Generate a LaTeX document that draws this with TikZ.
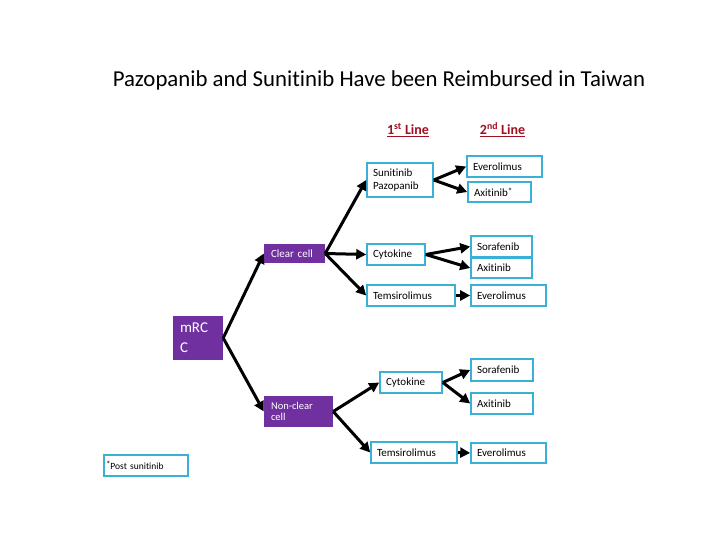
\documentclass[tikz,border=0pt]{standalone}
\usepackage{fontspec}
\setmainfont[Ligatures=NoCommon]{Carlito}
\usetikzlibrary{arrows.meta}
\definecolor{Ink}{HTML}{000000}
\definecolor{Paper}{HTML}{FFFFFF}
\definecolor{Plum}{HTML}{7030A0}
\definecolor{Aqua}{HTML}{3AAFD8}
\definecolor{Crimson}{HTML}{A01020}
\tikzset{
  drugbox/.style={rectangle,draw=Aqua,fill=Paper,text=Ink,line width=1.6pt,inner xsep=6pt,inner ysep=2pt,
    align=left,font=\fontsize{11}{13.5}\selectfont},
  typebox/.style={rectangle,fill=Plum,text=Paper,inner xsep=7pt,inner ysep=2pt,align=left,font=\fontsize{11}{12}\selectfont},
  flowarrow/.style={draw=Ink,line width=3pt,-{Triangle[length=10pt,width=10pt]}},
  lineheading/.style={text=Crimson,font=\fontsize{14}{16}\selectfont\bfseries}
}
\begin{document}
\begin{tikzpicture}[x=1pt,y=-1pt]
\path[use as bounding box,fill=Paper] (0,0) rectangle (720,540);
\node[font=\fontsize{22.8}{27}\selectfont] (title) at (379,80) {Pazopanib and Sunitinib Have been Reimbursed in Taiwan};
\node[lineheading] (firstline) at (408,130) {\underline{1\textsuperscript{st} Line}};
\node[lineheading] (secondline) at (502.5,130) {\underline{2\textsuperscript{nd} Line}};

% disease types
\node[typebox,text width=36pt,minimum height=44pt,font=\fontsize{15}{20}\selectfont] (mrcc) at (198,338) {mRC\\C};
\node[typebox,text width=47pt,minimum height=19pt] (clearcell) at (294.5,253.5) {Clear cell};
\node[typebox,text width=55pt,minimum height=31pt,font=\fontsize{10.5}{11}\selectfont] (nonclear) at (298.5,411.5) {Non-clear\\cell};

% clear cell branch
\node[drugbox,text width=54pt,minimum height=34pt] (sunpaz) at (400,180) {Sunitinib\\Pazopanib};
\node[drugbox,text width=46pt,minimum height=21pt] (cytoclear) at (396,254.5) {Cytokine};
\node[drugbox,text width=76pt,minimum height=21pt] (temsiclear) at (411,295.5) {Temsirolimus};
\node[drugbox,text width=63pt,minimum height=21pt] (everosun) at (504.5,166.5) {Everolimus};
\node[drugbox,text width=51pt,minimum height=20pt] (axisun) at (499.5,192) {Axitinib\raisebox{2pt}{\small*}};
\node[drugbox,text width=49pt,minimum height=21pt] (soraclear) at (501.5,246.5) {Sorafenib};
\node[drugbox,text width=49pt,minimum height=20pt] (axiclear) at (501.5,268) {Axitinib};
\node[drugbox,text width=63pt,minimum height=21pt] (everoclear) at (508.5,295.5) {Everolimus};

% non-clear cell branch
\node[drugbox,text width=50pt,minimum height=21pt] (cytononclear) at (411,382.5) {Cytokine};
\node[drugbox,text width=74pt,minimum height=21pt] (temsinonclear) at (414,452.5) {Temsirolimus};
\node[drugbox,text width=50pt,minimum height=22pt] (soranonclear) at (502,370) {Sorafenib};
\node[drugbox,text width=50pt,minimum height=21pt] (axinonclear) at (502,403.5) {Axitinib};
\node[drugbox,text width=63pt,minimum height=20pt] (everononclear) at (508.5,453) {Everolimus};

\node[drugbox,text width=80pt,minimum height=21pt,inner xsep=2pt,font=\fontsize{9.5}{11}\selectfont] (footnote) at (146,465.5) {\raisebox{1.5pt}{\small*}Post sunitinib};

\draw[flowarrow] (mrcc.east) -- (clearcell.west);
\draw[flowarrow] (mrcc.east) -- (nonclear.west);
\draw[flowarrow] (clearcell.east) -- (sunpaz.west);
\draw[flowarrow] (clearcell.east) -- (cytoclear.west);
\draw[flowarrow] (clearcell.east) -- (temsiclear.west);
\draw[flowarrow] (sunpaz.east) -- (everosun.west);
\draw[flowarrow] (sunpaz.east) -- (axisun.west);
\draw[flowarrow] (cytoclear.east) -- (soraclear.west);
\draw[flowarrow] (cytoclear.east) -- (axiclear.west);
\draw[flowarrow] (temsiclear.east) -- (everoclear.west);
\draw[flowarrow] (nonclear.east) -- (cytononclear.west);
\draw[flowarrow] (nonclear.east) -- (temsinonclear.west);
\draw[flowarrow] (cytononclear.east) -- (soranonclear.west);
\draw[flowarrow] (cytononclear.east) -- (axinonclear.west);
\draw[flowarrow] (temsinonclear.east) -- (everononclear.west);
\end{tikzpicture}
\end{document}
